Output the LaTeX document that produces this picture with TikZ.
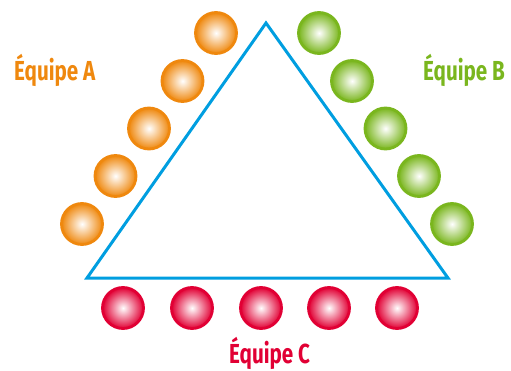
\documentclass[tikz,border=0pt]{standalone}
\usepackage{fontspec}
\setmainfont{Fira Sans}[FakeStretch=0.75]
\definecolor{teamA}{RGB}{239,136,14}
\definecolor{teamB}{RGB}{122,182,30}
\definecolor{teamC}{RGB}{225,0,52}
\definecolor{tri}{RGB}{0,158,224}
\tikzset{
  x=1pt,y=-1pt,
  ball/.style={circle,minimum size=41pt,inner sep=0pt,line width=2.8pt,draw=#1,shading=radial,inner color=white,outer color=#1},
  team/.style={anchor=base west,inner sep=0pt,text=#1,font=\bfseries\fontsize{27.5}{30}\selectfont},
  triline/.style={draw=tri,line width=3pt,miter limit=20}
}
\begin{document}
\begin{tikzpicture}
\useasboundingbox (0,0) rectangle (511,371);
\coordinate (t1) at (266,23);
\coordinate (t2) at (448,278);
\coordinate (t3) at (87,278);
\draw[triline] (t1) -- (t2) -- (t3) -- cycle;
% team A
\node[ball=teamA] (a1) at (216,33) {};
\node[ball=teamA] (a2) at (182.5,81) {};
\node[ball=teamA] (a3) at (149,128.5) {};
\node[ball=teamA] (a4) at (115.5,176) {};
\node[ball=teamA] (a5) at (82,224) {};
% team B
\node[ball=teamB] (b1) at (319,33) {};
\node[ball=teamB] (b2) at (352,81) {};
\node[ball=teamB] (b3) at (385.5,128.5) {};
\node[ball=teamB] (b4) at (419,176) {};
\node[ball=teamB] (b5) at (452,224) {};
% team C
\node[ball=teamC] (c1) at (123,308) {};
\node[ball=teamC] (c2) at (192,308) {};
\node[ball=teamC] (c3) at (261,308) {};
\node[ball=teamC] (c4) at (329,308) {};
\node[ball=teamC] (c5) at (397,308) {};
% labels
\node[team=teamA] (la) at (14,81) {Équipe A};
\node[team=teamB] (lb) at (423,81) {Équipe B};
\node[team=teamC] (lc) at (229,363) {Équipe C};
\end{tikzpicture}
\end{document}
